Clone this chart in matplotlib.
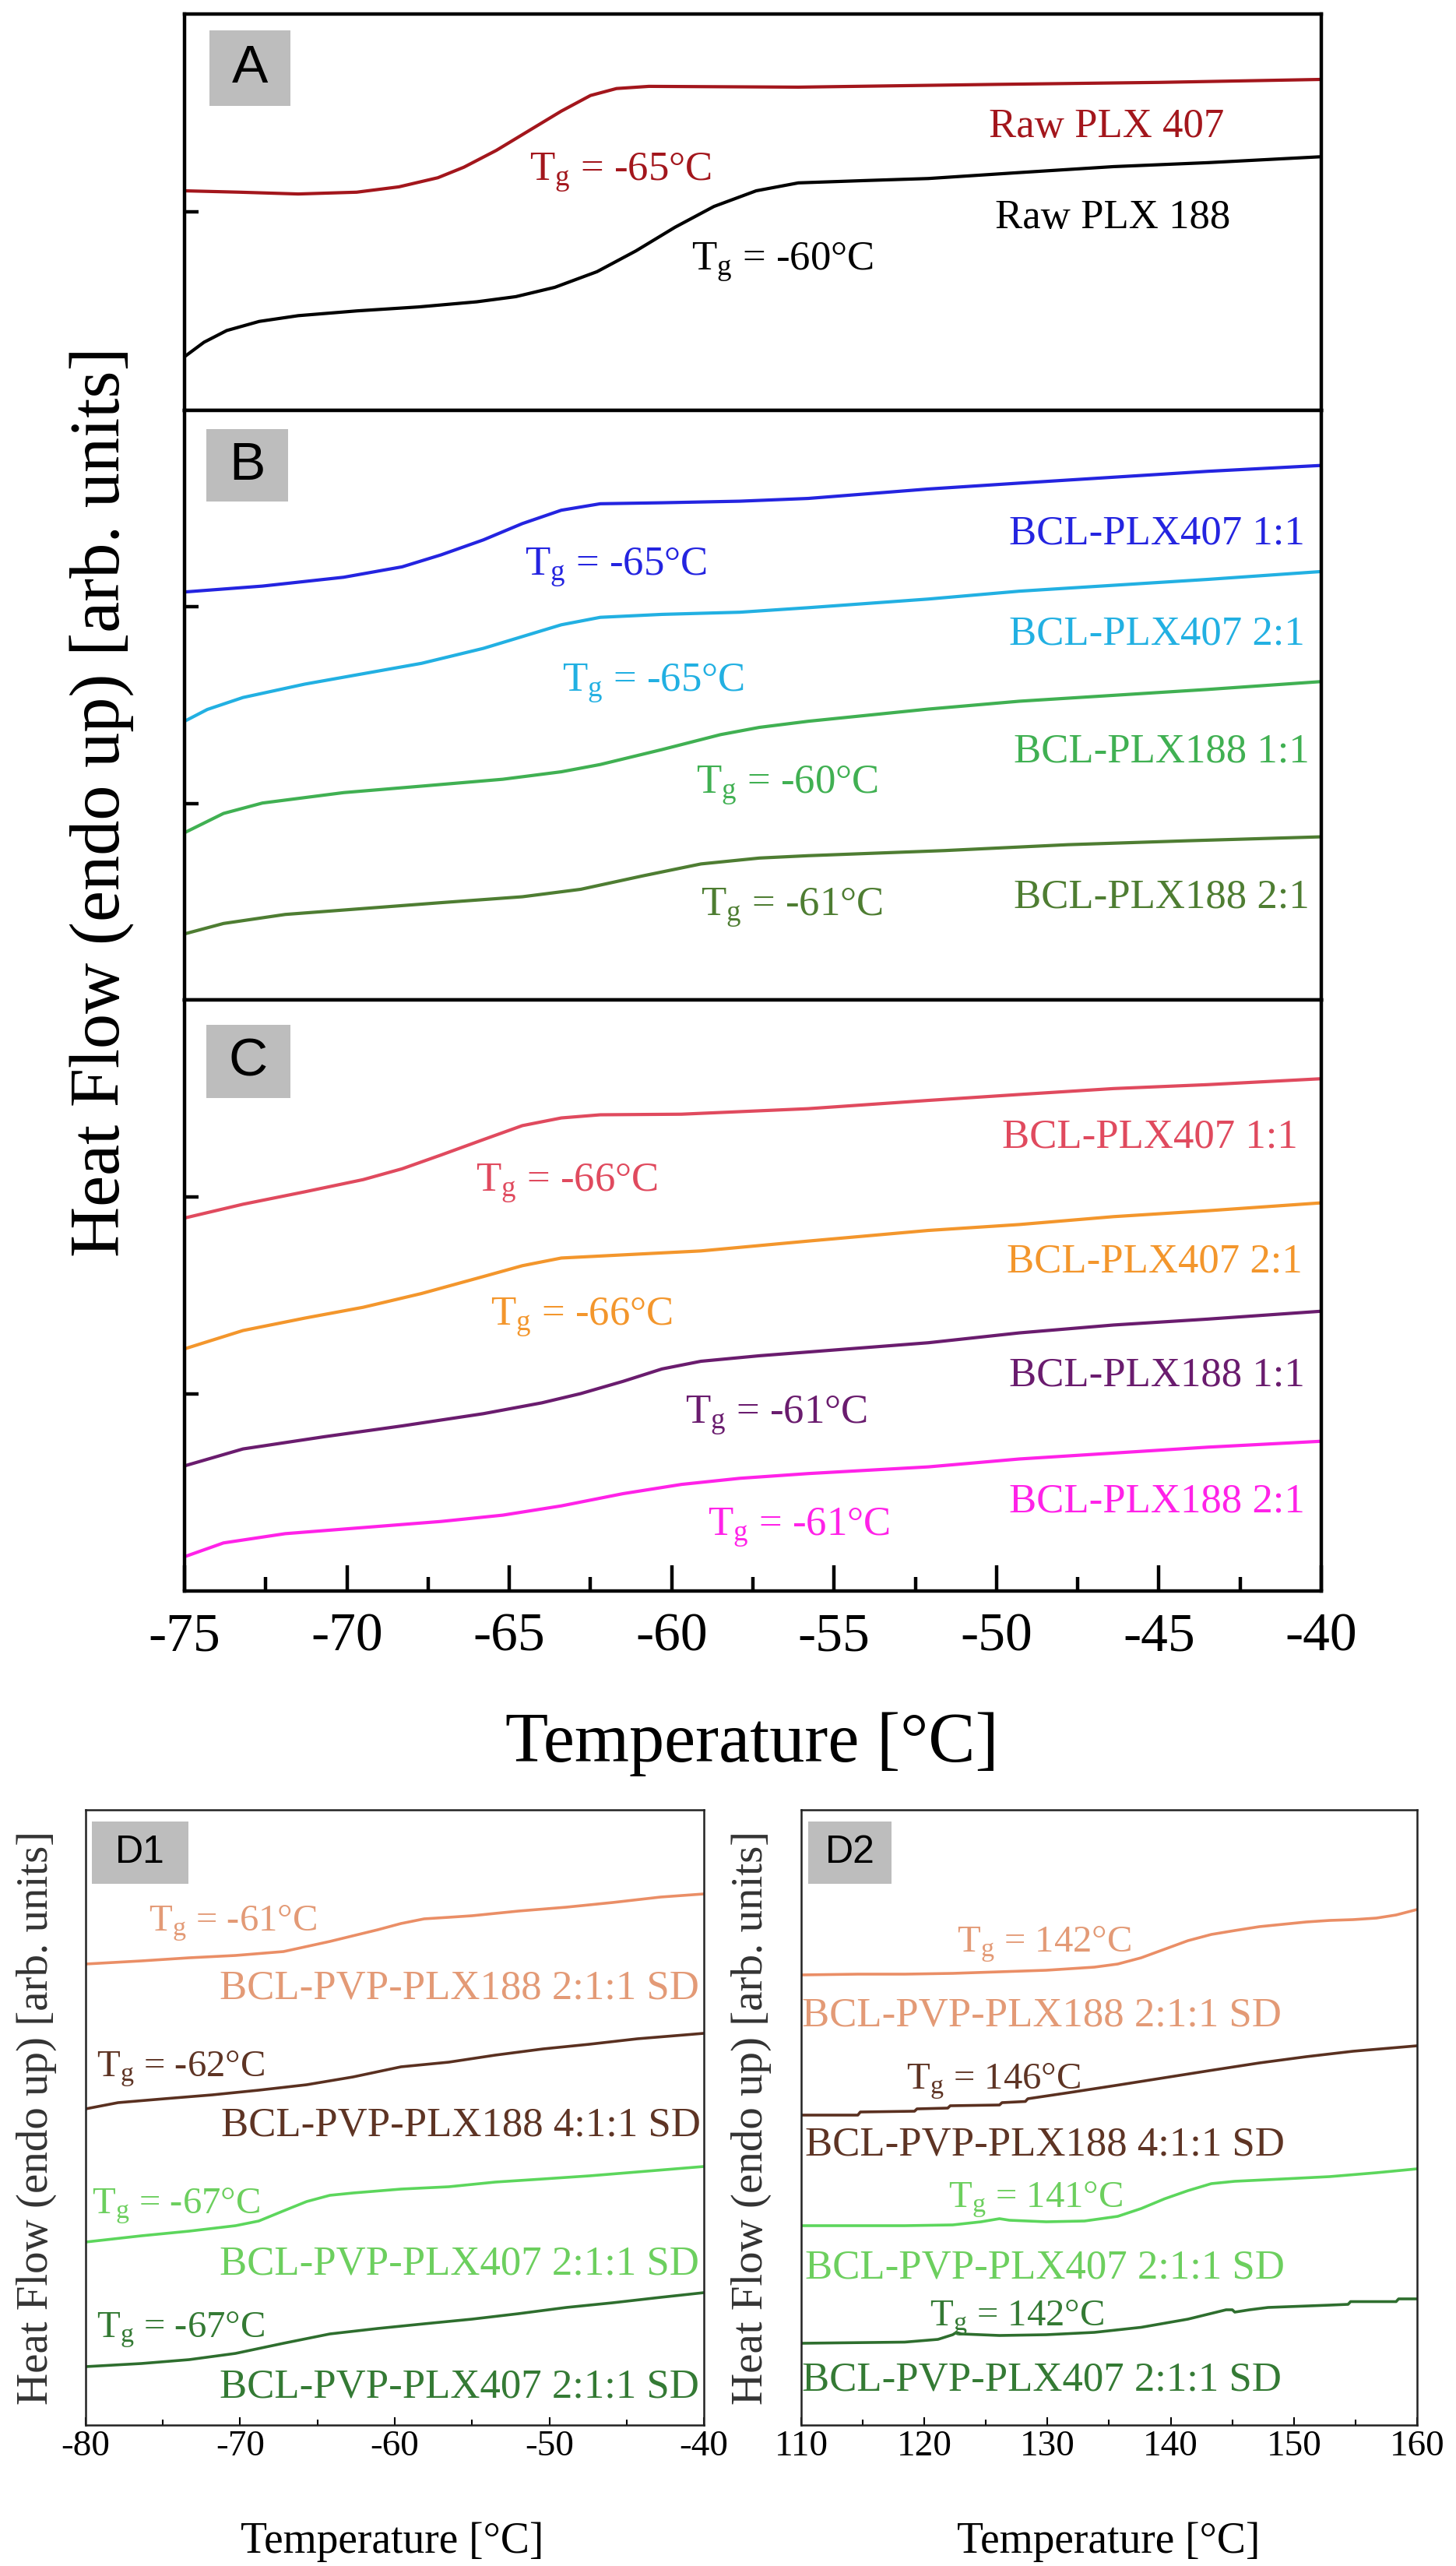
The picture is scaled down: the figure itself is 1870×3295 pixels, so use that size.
import matplotlib
matplotlib.use("Agg")
import matplotlib.pyplot as plt
from matplotlib.patches import Rectangle
from matplotlib.ticker import MultipleLocator

plt.rcParams['font.family'] = ['Liberation Serif', 'DejaVu Serif']
plt.rcParams['mathtext.fontset'] = 'custom'
plt.rcParams['mathtext.rm'] = 'Liberation Serif'
plt.rcParams['mathtext.it'] = 'Liberation Serif:italic'
plt.rcParams['axes.unicode_minus'] = False

# ---- panel A: raw poloxamers ----
t_raw407 = [-75, -73.3, -71.5, -69.7, -68.4, -67.2, -66.4, -65.4, -64.4, -63.4, -62.5, -61.7, -60.7,
            -56.1, -50, -45, -40]
hf_raw407 = [1.108, 1.101, 1.092, 1.101, 1.128, 1.174, 1.227, 1.312, 1.411, 1.510, 1.589, 1.624, 1.635,
             1.631, 1.645, 1.655, 1.67]
t_raw188 = [-75, -74.4, -73.7, -72.7, -71.5, -69.7, -67.8, -66.0, -64.8, -63.6, -62.3, -61.1, -59.9,
            -58.7, -57.4, -56.1, -54, -52.1, -49.3, -46.4, -43.5, -40]
hf_raw188 = [0.271, 0.344, 0.403, 0.449, 0.478, 0.502, 0.522, 0.548, 0.574, 0.621, 0.700, 0.805, 0.924,
             1.029, 1.108, 1.148, 1.16, 1.17, 1.20, 1.23, 1.25, 1.28]

# ---- panel B ----
t_b407_11 = [-75, -72.6, -70.1, -68.3, -67.1, -65.8, -64.6, -63.4, -62.2, -60.3, -57.9, -55.8,
             -52.1, -49.3, -46.4, -43.5, -40]
hf_b407_11 = [2.076, 2.106, 2.151, 2.204, 2.265, 2.341, 2.424, 2.492, 2.525, 2.530, 2.538, 2.552,
              2.60, 2.63, 2.66, 2.69, 2.72]
t_b407_21 = [-75, -74.3, -73.2, -71.3, -69.5, -67.7, -65.8, -64.6, -63.4, -62.2, -60.3, -57.9, -55.8,
             -52.1, -49.3, -46.4, -43.5, -40]
hf_b407_21 = [1.418, 1.478, 1.539, 1.607, 1.660, 1.713, 1.789, 1.849, 1.909, 1.947, 1.962, 1.973, 1.996,
              2.04, 2.08, 2.11, 2.14, 2.18]
t_b188_11 = [-75, -73.8, -72.6, -70.1, -67.7, -65.2, -63.4, -62.2, -60.3, -58.5, -57.3, -55.8,
             -52.1, -49.3, -46.4, -43.5, -40]
hf_b188_11 = [0.851, 0.949, 1.002, 1.055, 1.088, 1.123, 1.161, 1.198, 1.274, 1.350, 1.387, 1.418,
              1.48, 1.52, 1.55, 1.58, 1.62]
t_b188_21 = [-75, -73.8, -71.9, -69.5, -67.1, -64.6, -62.8, -60.9, -59.1, -57.3, -55.8,
             -51.6, -47.8, -44.1, -40]
hf_b188_21 = [0.336, 0.389, 0.435, 0.465, 0.495, 0.525, 0.563, 0.631, 0.692, 0.722, 0.734,
              0.76, 0.79, 0.81, 0.83]

# ---- panel C ----
t_c407_11 = [-75, -73.2, -71.3, -69.5, -68.3, -67.1, -65.8, -64.6, -63.4, -62.2, -59.7, -55.8,
             -52.1, -49.3, -46.4, -43.5, -40]
hf_c407_11 = [1.893, 1.963, 2.026, 2.088, 2.143, 2.213, 2.291, 2.362, 2.401, 2.417, 2.420, 2.448,
              2.49, 2.52, 2.55, 2.57, 2.60]
t_c407_21 = [-75, -73.2, -71.3, -69.5, -67.7, -65.8, -64.6, -63.4, -61.5, -59.1, -55.8,
             -52.1, -49.3, -46.4, -43.5, -40]
hf_c407_21 = [1.229, 1.322, 1.385, 1.440, 1.510, 1.596, 1.651, 1.690, 1.706, 1.726, 1.776,
              1.83, 1.86, 1.90, 1.93, 1.97]
t_c188_11 = [-75, -73.2, -70.7, -68.3, -65.8, -64.0, -62.8, -61.5, -60.3, -59.1, -57.3, -55.8,
             -52.1, -49.3, -46.4, -43.5, -40]
hf_c188_11 = [0.635, 0.721, 0.783, 0.838, 0.900, 0.955, 1.002, 1.064, 1.127, 1.166, 1.194, 1.213,
              1.26, 1.31, 1.35, 1.38, 1.42]
t_c188_21 = [-75, -73.8, -71.9, -69.5, -67.1, -65.2, -63.4, -61.5, -59.7, -57.9, -55.8,
             -52.1, -49.3, -46.4, -43.5, -40]
hf_c188_21 = [0.174, 0.244, 0.291, 0.322, 0.353, 0.385, 0.432, 0.494, 0.541, 0.572, 0.596,
              0.63, 0.67, 0.70, 0.73, 0.76]

# ---- panel D1 (low temperature, solid dispersions) ----
t_d1_a = [-80, -76.4, -73.3, -70.3, -67.2, -64.2, -61.1, -59.6, -58.1, -56.5, -55, -52, -48.9, -45.9, -42.8, -40]
hf_d1_a = [5.92, 5.96, 6.00, 6.03, 6.08, 6.21, 6.36, 6.44, 6.50, 6.52, 6.54, 6.60, 6.65, 6.71, 6.78, 6.82]
t_d1_b = [-80, -77.9, -74.9, -71.8, -68.8, -65.7, -62.7, -59.6, -56.5, -53.5, -50.4, -47.4, -44.3, -40]
hf_d1_b = [4.06, 4.14, 4.19, 4.24, 4.30, 4.37, 4.47, 4.60, 4.66, 4.75, 4.83, 4.89, 4.96, 5.03]
t_d1_c = [-80, -76.4, -73.3, -70.3, -68.8, -67.2, -65.7, -64.2, -62.7, -59.6, -56.5, -53.5, -50.4, -47.4, -44.3, -40]
hf_d1_c = [2.35, 2.43, 2.49, 2.56, 2.62, 2.75, 2.87, 2.95, 2.98, 3.03, 3.06, 3.12, 3.16, 3.20, 3.25, 3.32]
t_d1_d = [-80, -76.4, -73.3, -70.3, -67.2, -64.2, -61.1, -58.1, -55, -52, -48.9, -45.9, -42.8, -40]
hf_d1_d = [0.75, 0.79, 0.84, 0.92, 1.05, 1.17, 1.24, 1.30, 1.36, 1.43, 1.51, 1.57, 1.64, 1.70]

# ---- panel D2 (high temperature) ----
t_d2_a = [110, 114.6, 118.4, 122.3, 126.1, 129.9, 133.8, 135.7, 137.6, 139.5, 141.4, 143.3, 145.2,
          147.2, 149.1, 151, 152.9, 154.8, 156.7, 158.3, 160]
hf_d2_a = [5.78, 5.79, 5.79, 5.80, 5.82, 5.84, 5.88, 5.92, 6.00, 6.11, 6.22, 6.30, 6.35,
           6.40, 6.43, 6.46, 6.48, 6.49, 6.51, 6.55, 6.62]
t_d2_b = [110, 114.6, 114.8, 119.2, 119.4, 121.9, 122.1, 126.1, 126.3, 128.2, 128.4, 131.8, 135.7,
          139.5, 143.3, 147.2, 151, 154.8, 160]
hf_d2_b = [3.98, 3.98, 4.02, 4.03, 4.06, 4.07, 4.10, 4.11, 4.14, 4.155, 4.19, 4.27, 4.365,
           4.46, 4.555, 4.65, 4.73, 4.80, 4.87]
t_d2_c = [110, 118.4, 122.3, 124.6, 126.1, 126.9, 129.9, 133, 135.7, 137.6, 139.5, 141.4, 143.3,
          145.2, 149.1, 152.9, 156.7, 160]
hf_d2_c = [2.56, 2.56, 2.57, 2.61, 2.65, 2.63, 2.61, 2.62, 2.68, 2.78, 2.905, 3.01, 3.10,
           3.13, 3.16, 3.19, 3.24, 3.29]
t_d2_d = [110, 118.4, 121.1, 122.3, 122.6, 123, 126.1, 129.9, 133.8, 137.6, 141.4, 144.5, 145,
          145.2, 146.4, 147.9, 152.9, 154.4, 154.6, 158.3, 158.5, 160]
hf_d2_d = [1.05, 1.065, 1.10, 1.16, 1.19, 1.17, 1.15, 1.16, 1.19, 1.255, 1.36, 1.48, 1.48,
           1.45, 1.48, 1.51, 1.54, 1.55, 1.585, 1.585, 1.62, 1.62]

# kolory
c_raw407, c_raw188 = '#a3161c', '#000000'
c_b1, c_b2, c_b3, c_b4 = '#2424e0', '#22b0e2', '#40b052', '#4e7d32'
c_c1, c_c2, c_c3, c_c4 = '#e04a5e', '#f3962c', '#6a1c6e', '#ff22e8'
c_d1, c_d2, c_d3, c_d4 = '#ea8e66', '#5a3020', '#5cd65c', '#2e6e2e'

W, H = 1870, 3295
fig = plt.figure(figsize=(W / 100, H / 100), dpi=100)


def px_axes(x0, y0, x1, y1):
    return fig.add_axes([x0 / W, 1 - y1 / H, (x1 - x0) / W, (y1 - y0) / H])


def panel_tag(ax, label, box_px, size):
    # szare pole z literą panelu, pozycja w pikselach względem lewego górnego rogu osi
    bb = ax.get_position()
    aw, ah = bb.width * W, bb.height * H
    dx, dy, bw, bh = box_px
    x0 = dx / aw
    y0 = 1 - (dy + bh) / ah
    ax.add_patch(Rectangle((x0, y0), bw / aw, bh / ah, transform=ax.transAxes,
                           facecolor='#bdbdbd', edgecolor='none', zorder=5))
    ax.text(x0 + bw / aw / 2, y0 + bh / ah / 2, label, transform=ax.transAxes,
            ha='center', va='center', fontsize=size, family=['Liberation Sans'], zorder=6)


def tg(v):
    return r'T$_\mathregular{g}$ = ' + v + '°C'


axA = px_axes(237, 18, 1697, 527)
axB = px_axes(237, 527, 1697, 1284)
axC = px_axes(237, 1284, 1697, 2043)

main_lw = 3.0
axA.plot(t_raw407, hf_raw407, color=c_raw407, lw=main_lw)
axA.plot(t_raw188, hf_raw188, color=c_raw188, lw=main_lw)
axB.plot(t_b407_11, hf_b407_11, color=c_b1, lw=main_lw)
axB.plot(t_b407_21, hf_b407_21, color=c_b2, lw=main_lw)
axB.plot(t_b188_11, hf_b188_11, color=c_b3, lw=main_lw)
axB.plot(t_b188_21, hf_b188_21, color=c_b4, lw=main_lw)
axC.plot(t_c407_11, hf_c407_11, color=c_c1, lw=main_lw)
axC.plot(t_c407_21, hf_c407_21, color=c_c2, lw=main_lw)
axC.plot(t_c188_11, hf_c188_11, color=c_c3, lw=main_lw)
axC.plot(t_c188_21, hf_c188_21, color=c_c4, lw=main_lw)

for ax, ymax in ((axA, 2), (axB, 3), (axC, 3)):
    ax.set_xlim(-75, -40)
    ax.set_ylim(0, ymax)
    ax.set_yticks([1] if ymax == 2 else [1, 2])
    ax.set_yticklabels([])
    for s in ax.spines.values():
        s.set_linewidth(3.2)
    ax.tick_params(axis='y', direction='in', length=13, width=3.2, right=False)
    ax.xaxis.set_major_locator(MultipleLocator(5))
    ax.xaxis.set_minor_locator(MultipleLocator(2.5))
    ax.tick_params(axis='x', which='major', direction='in', length=24, width=3.2, top=False,
                   labelsize=50, pad=20)
    ax.tick_params(axis='x', which='minor', direction='in', length=13, width=3.2, top=False)
for ax in (axA, axB):
    ax.tick_params(axis='x', which='both', bottom=False, labelbottom=False)

lab = 38
main_texts = [
    (axA, 'Raw PLX 407', -42.99, 1.38, 'right', c_raw407),
    (axA, tg('-65'), -64.38, 1.16, 'left', c_raw407),
    (axA, 'Raw PLX 188', -42.80, 0.92, 'right', c_raw188),
    (axA, tg('-60'), -59.39, 0.71, 'left', c_raw188),
    (axB, 'BCL-PLX407 1:1', -40.50, 2.32, 'right', c_b1),
    (axB, tg('-65'), -64.52, 2.16, 'left', c_b1),
    (axB, 'BCL-PLX407 2:1', -40.50, 1.81, 'right', c_b2),
    (axB, tg('-65'), -63.37, 1.57, 'left', c_b2),
    (axB, 'BCL-PLX188 1:1', -40.36, 1.21, 'right', c_b3),
    (axB, tg('-60'), -59.25, 1.05, 'left', c_b3),
    (axB, 'BCL-PLX188 2:1', -40.36, 0.47, 'right', c_b4),
    (axB, tg('-61'), -59.10, 0.43, 'left', c_b4),
    (axC, 'BCL-PLX407 1:1', -40.72, 2.25, 'right', c_c1),
    (axC, tg('-66'), -66.03, 2.03, 'left', c_c1),
    (axC, 'BCL-PLX407 2:1', -40.57, 1.62, 'right', c_c2),
    (axC, tg('-66'), -65.58, 1.35, 'left', c_c2),
    (axC, 'BCL-PLX188 1:1', -40.50, 1.04, 'right', c_c3),
    (axC, tg('-61'), -59.58, 0.85, 'left', c_c3),
    (axC, 'BCL-PLX188 2:1', -40.50, 0.40, 'right', c_c4),
    (axC, tg('-61'), -58.89, 0.28, 'left', c_c4),
]
for ax, s, x, y, ha, col in main_texts:
    ax.text(x, y, s, ha=ha, va='baseline', color=col, fontsize=lab)

panel_tag(axA, 'A', (32, 21, 104, 97), 50)
panel_tag(axB, 'B', (28, 24, 105, 93), 50)
panel_tag(axC, 'C', (28, 32, 108, 94), 50)

fig.text(131 / W, 1 - 1030 / H, 'Heat Flow (endo up) [arb. units]', rotation=90,
         ha='center', va='center', fontsize=65)
fig.text(966 / W, 1 - 2240 / H, 'Temperature [°C]', ha='center', va='center', fontsize=65)

# ---- dolne panele D1 / D2 ----
axD1 = px_axes(110, 2324, 904, 3114)
axD2 = px_axes(1029, 2324, 1820, 3114)

d_lw = 2.6
axD1.plot(t_d1_a, hf_d1_a, color=c_d1, lw=d_lw)
axD1.plot(t_d1_b, hf_d1_b, color=c_d2, lw=d_lw)
axD1.plot(t_d1_c, hf_d1_c, color=c_d3, lw=d_lw)
axD1.plot(t_d1_d, hf_d1_d, color=c_d4, lw=d_lw)
axD2.plot(t_d2_a, hf_d2_a, color=c_d1, lw=d_lw)
axD2.plot(t_d2_b, hf_d2_b, color=c_d2, lw=d_lw)
axD2.plot(t_d2_c, hf_d2_c, color=c_d3, lw=d_lw)
axD2.plot(t_d2_d, hf_d2_d, color=c_d4, lw=d_lw)

axD1.set_xlim(-80, -40)
axD2.set_xlim(110, 160)
for ax in (axD1, axD2):
    ax.set_ylim(0, 7.9)
    ax.set_yticks([])
    for s in ax.spines.values():
        s.set_linewidth(1.8)
        s.set_color('#222222')
    ax.xaxis.set_major_locator(MultipleLocator(10))
    ax.xaxis.set_minor_locator(MultipleLocator(5))
    ax.tick_params(axis='x', which='major', direction='in', length=7, width=1.5,
                   labelsize=34, pad=5, top=False)
    ax.tick_params(axis='x', which='minor', direction='in', length=5, width=1.5, top=False)
    ax.set_ylabel('Heat Flow (endo up) [arb. units]', fontsize=41, color='#333333', labelpad=0)
    ax.set_xlabel('Temperature [°C]', fontsize=40, labelpad=0)

axD1.yaxis.set_label_coords((73 - 110) / 794, 0.5)
axD2.yaxis.set_label_coords((991 - 1029) / 791, 0.5)
axD1.xaxis.set_label_coords(0.496, (3114 - 3238) / 790)
axD2.xaxis.set_label_coords((1424 - 1029) / 791, (3114 - 3238) / 790)

sd1 = 'BCL-PVP-PLX188 2:1:1 SD'
sd2 = 'BCL-PVP-PLX188 4:1:1 SD'
sd3 = 'BCL-PVP-PLX407 2:1:1 SD'
d_texts = [
    (axD1, tg('-61'), -75.92, 6.35, 'left', '#e39a76', 35),
    (axD1, sd1, -40.30, 5.48, 'right', '#e39a76', 38),
    (axD1, tg('-62'), -79.29, 4.48, 'left', '#5e3424', 35),
    (axD1, sd2, -40.20, 3.72, 'right', '#5e3424', 38),
    (axD1, tg('-67'), -79.60, 2.72, 'left', '#6ccf5e', 35),
    (axD1, sd3, -40.30, 1.94, 'right', '#6ccf5e', 38),
    (axD1, tg('-67'), -79.29, 1.13, 'left', '#347a34', 35),
    (axD1, sd3, -40.30, 0.36, 'right', '#347a34', 38),
    (axD2, tg('142'), 122.64, 6.08, 'left', '#e39a76', 35),
    (axD2, sd1, 110.06, 5.13, 'left', '#e39a76', 38),
    (axD2, tg('146'), 118.53, 4.32, 'left', '#5e3424', 35),
    (axD2, sd2, 110.30, 3.47, 'left', '#5e3424', 38),
    (axD2, tg('141'), 121.95, 2.80, 'left', '#6ccf5e', 35),
    (axD2, sd3, 110.30, 1.89, 'left', '#6ccf5e', 38),
    (axD2, tg('142'), 120.43, 1.28, 'left', '#347a34', 35),
    (axD2, sd3, 110.06, 0.45, 'left', '#347a34', 38),
]
for ax, s, x, y, ha, col, fs in d_texts:
    ax.text(x, y, s, ha=ha, va='baseline', color=col, fontsize=fs)

panel_tag(axD1, 'D1', (8, 15, 124, 80), 36)
panel_tag(axD2, 'D2', (9, 15, 107, 80), 36)

fig.savefig('out.png', dpi=100)
